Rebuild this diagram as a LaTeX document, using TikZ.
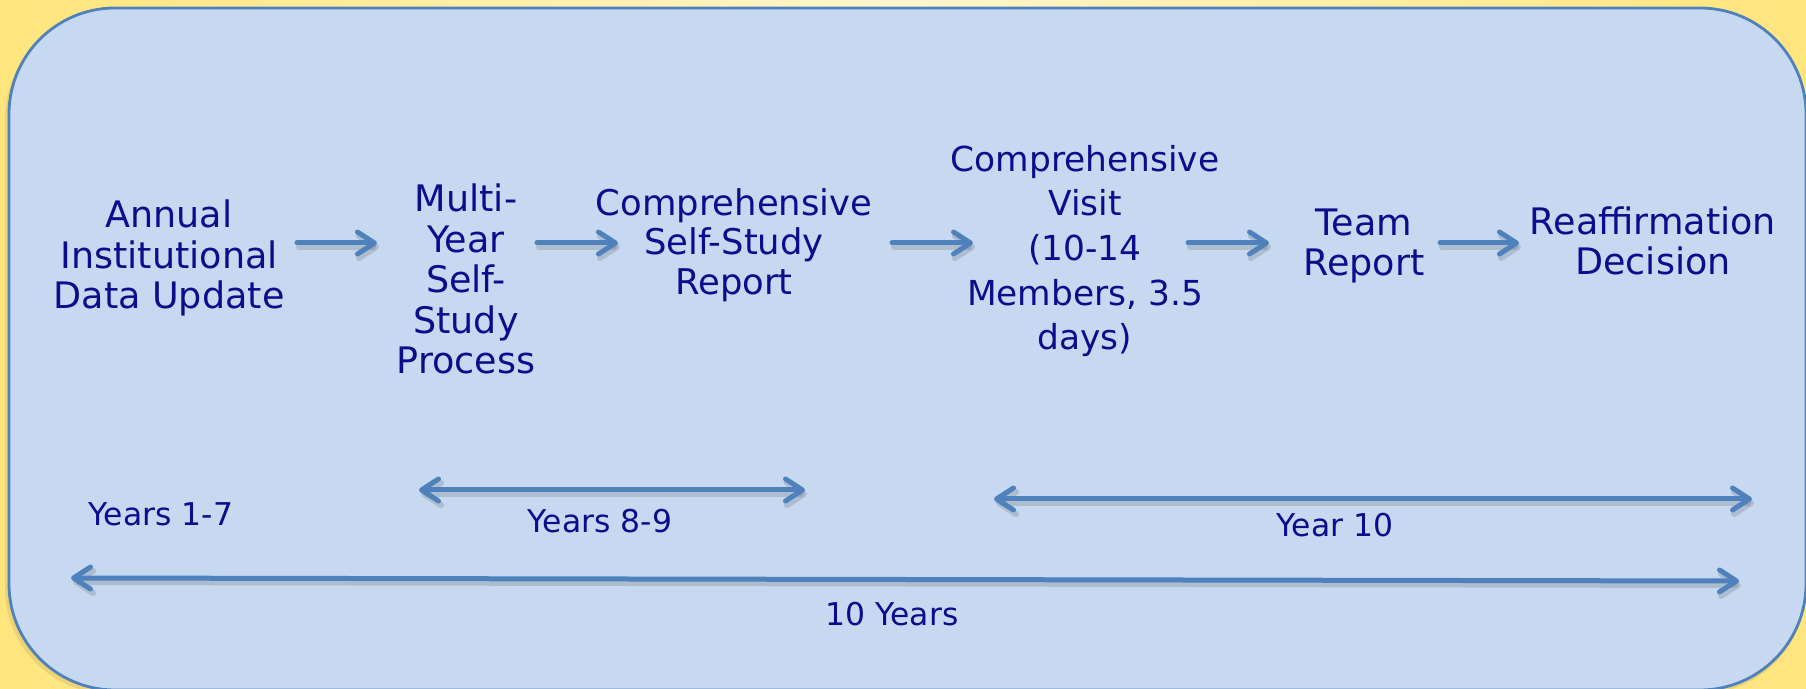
\documentclass[tikz,border=0pt]{standalone}
\usepackage{fontspec}
\setmainfont{DejaVu Sans}
\usetikzlibrary{arrows.meta}
\definecolor{txt}{RGB}{12,12,140}
\definecolor{arr}{RGB}{79,129,189}
\definecolor{boxfill}{RGB}{198,217,241}
\definecolor{ylw}{RGB}{255,229,125}
\definecolor{ylwlight}{RGB}{255,246,205}
\begin{document}
\begin{tikzpicture}[x=0.5pt,y=-0.5pt,
  lbl/.style={text=txt, align=center, inner sep=0pt, font=\fontsize{18.25}{20.2}\selectfont},
  small/.style={text=txt, inner sep=0pt, anchor=base, font=\fontsize{15.7}{18}\selectfont},
  tip/.tip={Straight Barb[round, length=8.5pt, width=11pt]},
  flow/.style={draw=arr, line width=2.5pt, line cap=round, -tip},
  dflow/.style={draw=arr, line width=2.5pt, line cap=round, tip-tip},
  flowsh/.style={draw=black!60, opacity=0.25, line width=3pt, line cap=round, -tip, transform canvas={shift={(1pt,-2pt)}}},
  dflowsh/.style={draw=black!60, opacity=0.25, line width=3pt, line cap=round, tip-tip, transform canvas={shift={(1pt,-2pt)}}}
]
\useasboundingbox (0,0) rectangle (1806,689);
\shade[left color=ylw, right color=ylw, middle color=ylwlight] (0,0) rectangle (1806,689);
\fill[black, opacity=0.08, rounded corners=53pt] (5,13) rectangle (1806,694);
\draw[draw=arr, line width=1.4pt, fill=boxfill, rounded corners=53pt] (9,8) rectangle (1806,690);

\node[lbl] (annual) at (169,258) {Annual\\Institutional\\Data Update};
\node[lbl] (multi) at (466,279) {Multi-\\Year\\Self-\\Study\\Process};
\node[lbl, font=\fontsize{17.7}{19.8}\selectfont] (report) at (734,245) {Comprehensive\\Self-Study\\Report};
\node[lbl, font=\fontsize{17.2}{22.3}\selectfont] (visit) at (1085,251) {Comprehensive\\Visit\\(10-14\\Members, 3.5\\days)};
\node[lbl] (team) at (1364,246) {Team\\Report};
\node[lbl] (decision) at (1653,241) {Reaffirmation\\Decision};

\coordinate (a1s) at (297,243); \coordinate (a1e) at (377,243);
\coordinate (a2s) at (537,243); \coordinate (a2e) at (618,243);
\coordinate (a3s) at (892,243); \coordinate (a3e) at (973,243);
\coordinate (a4s) at (1188,243); \coordinate (a4e) at (1269,243);
\coordinate (a5s) at (1440,243); \coordinate (a5e) at (1519,243);

\coordinate (b1s) at (419,490); \coordinate (b1e) at (805,490);
\coordinate (b2s) at (994,499); \coordinate (b2e) at (1752,499);
\coordinate (b3s) at (71,578); \coordinate (b3e) at (1739,581);

\foreach \s/\e in {a1s/a1e,a2s/a2e,a3s/a3e,a4s/a4e,a5s/a5e}{
  \draw[flowsh] (\s) -- (\e);
  \draw[flow] (\s) -- (\e);
}
\foreach \s/\e in {b1s/b1e,b2s/b2e,b3s/b3e}{
  \draw[dflowsh] (\s) -- (\e);
  \draw[dflow] (\s) -- (\e);
}

\node[small] (y17) at (161,526) {Years 1-7};
\node[small] (y89) at (600,533) {Years 8-9};
\node[small] (y10) at (1335,537) {Year 10};
\node[small] (ten) at (892,625) {10 Years};
\end{tikzpicture}
\end{document}
